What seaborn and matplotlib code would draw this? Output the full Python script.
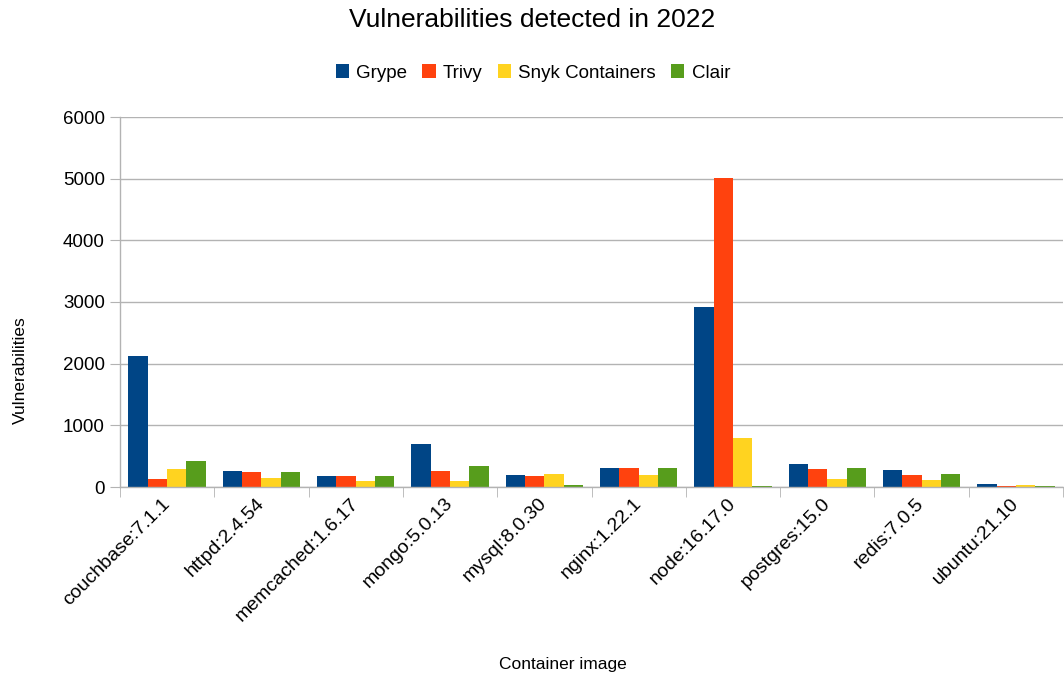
import pandas as pd
import seaborn as sns
import matplotlib.pyplot as plt
from matplotlib.ticker import FixedLocator

# Data
images = ["couchbase:7.1.1", "httpd:2.4.54", "memcached:1.6.17", "mongo:5.0.13",
          "mysql:8.0.30", "nginx:1.22.1", "node:16.17.0", "postgres:15.0",
          "redis:7.0.5", "ubuntu:21.10"]
tools = ["Grype", "Trivy", "Snyk Containers", "Clair"]
grype = [2125, 264, 178, 705, 188, 301, 2920, 366, 270, 44]
trivy = [135, 243, 178, 253, 172, 301, 5010, 286, 189, 10]
snyk = [297, 151, 97, 92, 210, 188, 792, 124, 108, 27]
clair = [427, 243, 178, 334, 27, 301, 10, 302, 205, 10]
colors = ["#004586", "#ff420e", "#ffd320", "#579d1c"]

rows = []
for tool, vals in zip(tools, [grype, trivy, snyk, clair]):
    for img, v in zip(images, vals):
        rows.append({"image": img, "Tool": tool, "count": v})
df = pd.DataFrame(rows)

sns.set_style("white")
plt.rcParams["font.family"] = ["Liberation Sans", "DejaVu Sans"]
plt.rcParams["text.color"] = "black"
plt.rcParams["axes.labelcolor"] = "black"
plt.rcParams["xtick.labelcolor"] = "black"
plt.rcParams["ytick.labelcolor"] = "black"

fig = plt.figure(figsize=(10.64, 6.79), dpi=100)
ax = fig.add_axes([120 / 1064, 1 - 487 / 679, 943 / 1064, 370 / 679])

sns.barplot(data=df, x="image", y="count", hue="Tool", hue_order=tools,
            palette=colors, saturation=1, width=0.82, gap=0, linewidth=0,
            errorbar=None, ax=ax)

ax.set_ylim(0, 6000)
ax.set_xlim(-0.5, len(images) - 0.5)
ax.set_yticks(range(0, 6001, 1000))
ax.yaxis.grid(True, color="#b3b3b3", linewidth=1)
ax.set_axisbelow(True)
for s in ["top", "right"]:
    ax.spines[s].set_visible(False)
for s in ["left", "bottom"]:
    ax.spines[s].set_color("#b3b3b3")
    ax.spines[s].set_linewidth(1)

ax.tick_params(axis="y", labelsize=13.5, length=7, color="#b3b3b3", left=True, pad=4)
ax.tick_params(axis="x", which="major", length=0, labelsize=14, pad=10)
ax.xaxis.set_minor_locator(FixedLocator([i - 0.5 for i in range(len(images) + 1)]))
ax.tick_params(axis="x", which="minor", length=7, color="#b3b3b3", bottom=True)
plt.setp(ax.get_xticklabels(), rotation=45, ha="right", va="center", rotation_mode="anchor")

ax.set_xlabel("")
ax.set_ylabel("")
fig.text(563 / 1064, 1 - 665 / 679, "Container image", fontsize=12.5, ha="center", va="center")
fig.text(20 / 1064, 1 - 370 / 679, "Vulnerabilities", fontsize=12.5, rotation=90,
         ha="center", va="center")

ax.legend_.remove()
handles, labels = ax.get_legend_handles_labels()
fig.legend(handles, labels, loc="center", bbox_to_anchor=(533 / 1064, 1 - 73 / 679),
           ncol=4, frameon=False, fontsize=13.5, handlelength=0.7, handleheight=0.7,
           handletextpad=0.4, columnspacing=0.8)

fig.suptitle("Vulnerabilities detected in 2022", fontsize=19, y=1 - 20 / 679, va="center")

fig.savefig("out.png", dpi=100)
